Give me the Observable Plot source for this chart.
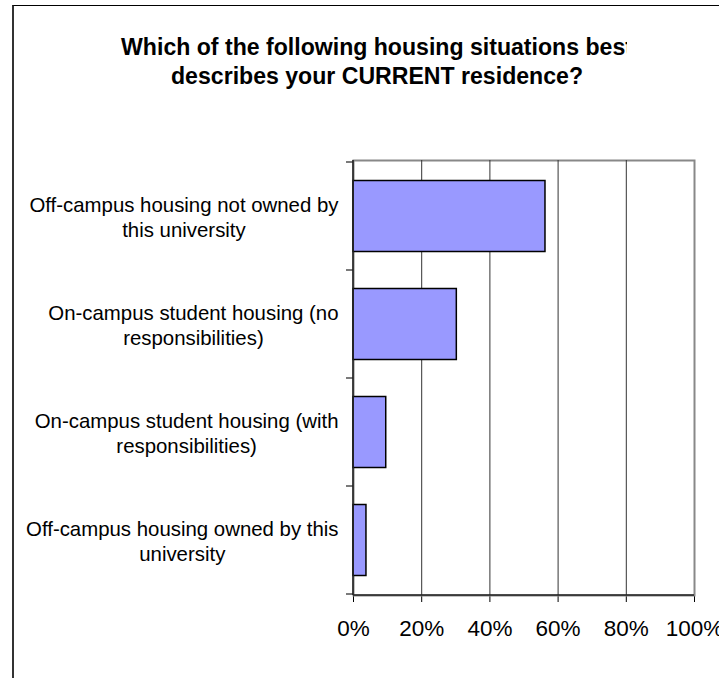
<!DOCTYPE html>
<html><head><meta charset="utf-8">
<script src="https://cdn.jsdelivr.net/npm/d3@7"></script>
<script src="https://cdn.jsdelivr.net/npm/@observablehq/plot@0.6"></script>
<style>
body{margin:0;background:#fff;}
#wrap{position:relative;width:719px;height:678px;overflow:hidden;font-family:"Liberation Sans",Arial,sans-serif;background:#fff;}
#border{position:absolute;left:12px;top:5px;width:800px;height:800px;border-left:2px solid #333;border-top:1px solid #000;box-sizing:border-box;}
#title{position:absolute;left:0;top:33.4px;width:627px;overflow:hidden;white-space:nowrap;}
#title div{width:754px;text-align:center;font-weight:bold;font-size:23.1px;line-height:29px;color:#000;}
#chart{position:absolute;left:0;top:0;}
</style>
</head>
<body>
<div id="wrap">
  <div id="border"></div>
  <div id="chart"></div>
  <div id="title"></div>
</div>
<script>
const titleLines = ["Which of the following housing situations best", "describes your CURRENT residence?"];
const categories = [
  "Off-campus housing not owned by this university",
  "On-campus student housing (no responsibilities)",
  "On-campus student housing (with responsibilities)",
  "Off-campus housing owned by this university"
];
const labelLines = [
  ["Off-campus housing not owned by", "this university"],
  ["On-campus student housing (no", "responsibilities)"],
  ["On-campus student housing (with", "responsibilities)"],
  ["Off-campus housing owned by this", "university"]
];
const values = [0.563, 0.303, 0.096, 0.038];
const xTicks = [0, 0.2, 0.4, 0.6, 0.8, 1];
const gridTicks = [0.2, 0.4, 0.6, 0.8];

const titleEl = document.getElementById("title");
for (const t of titleLines) { const d = document.createElement("div"); d.textContent = t; titleEl.appendChild(d); }

const data = categories.map((c, i) => ({category: c, value: values[i]}));
const fontLabel = 20.4;
const ctx = document.createElement("canvas").getContext("2d");
ctx.font = `${fontLabel}px "Liberation Sans"`;

const labelMarks = categories.map((c, i) => {
  const w = d3.max(labelLines[i], s => ctx.measureText(s).width);
  return Plot.text([c], {
    y: d => d, frameAnchor: "left", text: () => labelLines[i].join("\n"),
    textAnchor: "middle", lineAnchor: "middle", lineHeight: 1.25,
    dx: -15 - w / 2, fontSize: fontLabel, fill: "#000"
  });
});

const axisDecor = (index, scales, values, dims) => {
  const g = d3.create("svg:g");
  const y = scales.y, bw = y.bandwidth();
  const x0 = dims.marginLeft, x1 = dims.width - dims.marginRight, yb = dims.height - dims.marginBottom;
  const ys = categories.map(c => y(c)).concat([y(categories[categories.length - 1]) + bw]);
  for (const yy of ys) {
    g.append("line").attr("x1", x0 - 7).attr("x2", x0).attr("y1", yy).attr("y2", yy)
      .attr("stroke", "#222").attr("stroke-width", 1.2);
  }
  g.append("line").attr("x1", x0).attr("x2", x1).attr("y1", yb).attr("y2", yb)
    .attr("stroke", "#222").attr("stroke-width", 1.6);
  g.append("line").attr("x1", x0).attr("x2", x0).attr("y1", dims.marginTop).attr("y2", yb)
    .attr("stroke", "#222").attr("stroke-width", 1.6);
  return g.node();
};

const chart = Plot.plot({
  width: 719,
  height: 678,
  marginLeft: 353,
  marginRight: 25,
  marginTop: 160,
  marginBottom: 83,
  style: {fontSize: "22.5px", fontFamily: "'Liberation Sans', Arial, sans-serif", color: "#000", background: "transparent", overflow: "visible"},
  x: {domain: [0, 1], ticks: xTicks, tickFormat: d3.format(".0%"), tickSize: 7, tickPadding: 18, label: null},
  y: {domain: categories, padding: 0, axis: null},
  marks: [
    Plot.frame({stroke: "#888", strokeWidth: 2}),
    Plot.ruleX(gridTicks, {stroke: "#333", strokeWidth: 1}),
    Plot.barX(data, {x: "value", y: "category", fill: "#9999FF", stroke: "#000", strokeWidth: 1.5, insetTop: 18.5, insetBottom: 18.5}),
    axisDecor,
    ...labelMarks
  ]
});
document.getElementById("chart").appendChild(chart);
</script>
</body></html>
